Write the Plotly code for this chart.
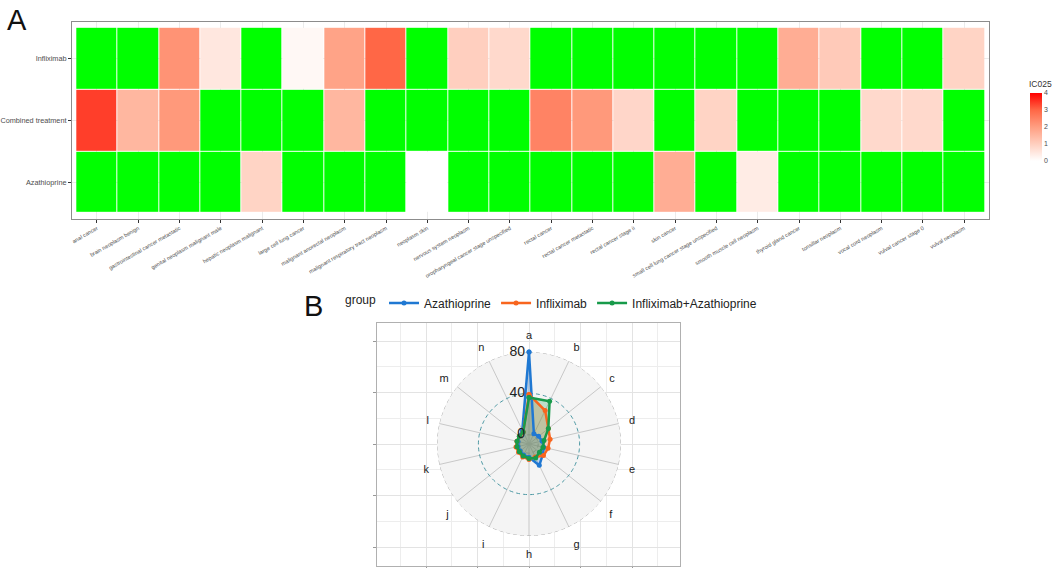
import numpy as np
import plotly.graph_objects as go

# ---- panel A: IC025 heatmap (None = no value, drawn green) ----
cancers = ["anal cancer", "brain neoplasm benign", "gastrointestinal cancer metastatic",
           "genital neoplasm malignant male", "hepatic neoplasm malignant", "large cell lung cancer",
           "malignant anorectal neoplasm", "malignant respiratory tract neoplasm", "neoplasm skin",
           "nervous system neoplasm", "oropharyngeal cancer stage unspecified", "rectal cancer",
           "rectal cancer metastatic", "rectal cancer stage ii", "skin cancer",
           "small cell lung cancer stage unspecified", "smooth muscle cell neoplasm",
           "thyroid gland cancer", "tonsillar neoplasm", "vocal cord neoplasm",
           "vulval cancer stage 0", "vulval neoplasm"]
treatments = ["Azathioprine", "Combined treatment", "Infliximab"]

ic025_azathioprine = [None, None, None, None, 0.9, None, None, None, 0.0, None, None,
                      None, None, None, 1.7, None, 0.4, None, None, None, None, None]
ic025_combined = [3.4, 1.5, 2.1, None, None, None, 1.5, None, None, None, None,
                  2.5, 2.1, 0.85, None, 0.9, None, None, None, 0.8, 0.8, None]
ic025_infliximab = [None, None, 2.2, 0.5, None, 0.15, 1.9, 3.0, None, 1.0, 0.8,
                    None, None, None, None, None, None, 1.7, 1.1, None, None, 0.9]

# ---- panel B: radar ----
spokes = list("abcdefghijklmn")
azathioprine = [80, 2, 3, 4, 6, 8, 14, 4, 3, 2, 2, 2, 3, 6]
infliximab = [39, 27, 15, 12, 10, 9, 5, 6, 5, 4, 4, 3, 3, 4]
infliximab_azathioprine = [36, 37, 15, 6, 5, 4, 6, 5, 4, 3, 3, 3, 3, 4]
radial_ticks = [0, 40, 80]

W, H = 1052, 568
px = lambda x: x / W
py = lambda y: 1 - y / H

# white -> red, interpolated like ggplot (Lab)
heat_scale = [[0, "#FFFFFF"], [0.25, "#FFCFBF"], [0.5, "#FF9E81"], [0.75, "#FF6746"], [1, "#FF0000"]]

fig = go.Figure()

z = [ic025_azathioprine, ic025_combined, ic025_infliximab]
na_cells = [[1 if v is None else None for v in row] for row in z]

fig.add_trace(go.Heatmap(z=na_cells, x=cancers, y=treatments, xgap=1, ygap=1,
                         colorscale=[[0, "#00FF00"], [1, "#00FF00"]], showscale=False,
                         hoverinfo="skip"))
fig.add_trace(go.Heatmap(z=z, x=cancers, y=treatments, xgap=1, ygap=1,
                         colorscale=heat_scale, zmin=0, zmax=4,
                         colorbar=dict(x=px(1030), xanchor="left", y=py(127), yanchor="middle",
                                       thickness=12, len=68, lenmode="pixels",
                                       tickvals=[0, 1, 2, 3, 4], ticks="",
                                       tickfont=dict(size=7, color="#4D4D4D"),
                                       outlinewidth=0, xpad=0, ypad=0)))

# empty trace so the radar's cartesian panel is drawn
fig.add_trace(go.Scatter(x=[None], y=[None], xaxis="x2", yaxis="y2", showlegend=False))

n = len(spokes)
angles = [i * 360 / n for i in range(n)]
theta_ring = np.linspace(0, 360, 181)
for r_val, col in zip(radial_ticks, ["#AAAAAA", "#4D98A3", "#AAAAAA"]):
    fig.add_trace(go.Scatterpolar(r=[r_val] * len(theta_ring), theta=theta_ring, mode="lines",
                                  line=dict(color=col, width=1, dash="4px,3px"),
                                  showlegend=False, hoverinfo="skip"))

groups = [("Azathioprine", azathioprine, "#1F78D2", "rgba(31,120,210,0.25)"),
          ("Infliximab", infliximab, "#F8651E", "rgba(248,101,30,0.25)"),
          ("Infliximab+Azathioprine", infliximab_azathioprine, "#179A4A", "rgba(23,154,74,0.25)")]
for name, vals, col, fillcol in groups:
    r = vals + vals[:1]
    th = angles + angles[:1]
    fig.add_trace(go.Scatterpolar(r=r, theta=th, mode="lines", fill="toself", fillcolor=fillcol,
                                  line=dict(width=0), showlegend=False, hoverinfo="skip"))
for name, vals, col, fillcol in groups:
    r = vals + vals[:1]
    th = angles + angles[:1]
    fig.add_trace(go.Scatterpolar(r=r, theta=th, mode="lines+markers", name=name,
                                  line=dict(color=col, width=2.5), marker=dict(color=col, size=5)))

# radial value labels beside spoke "a"
fig.add_trace(go.Scatterpolar(r=radial_ticks, theta=[0] * len(radial_ticks), mode="text",
                              text=[str(v) + "\u00a0" for v in radial_ticks],
                              textposition="middle left",
                              textfont=dict(size=14, color="#222"), showlegend=False,
                              hoverinfo="skip", cliponaxis=False))

axis_common = dict(automargin=False, zeroline=False, showline=True, mirror=True, linewidth=1)

fig.update_layout(
    width=W, height=H, margin=dict(l=0, r=0, t=0, b=0),
    paper_bgcolor="white", plot_bgcolor="white",
    font=dict(family="Liberation Sans, Arial, sans-serif", color="#222"),
    xaxis=dict(domain=[px(72), px(989)], range=[-0.604, 21.6], showgrid=True, gridcolor="#EBEBEB",
               linecolor="#8C8C8C", ticks="outside", ticklen=3, tickcolor="#333", tickangle=-30,
               tickfont=dict(size=5.5, color="#4D4D4D"), **axis_common),
    yaxis=dict(domain=[py(219), py(22)], range=[-0.594, 2.594], showgrid=True, gridcolor="#EBEBEB",
               linecolor="#8C8C8C", ticks="outside", ticklen=3, tickcolor="#333",
               tickfont=dict(size=7.3, color="#4D4D4D"), **axis_common),
    xaxis2=dict(domain=[px(377), px(680)], range=[-147.6, 146.6], anchor="y2",
                tick0=0, dtick=50, showticklabels=False, ticks="outside", ticklen=3, tickcolor="#999",
                showgrid=True, gridcolor="#E3E3E3",
                minor=dict(dtick=25, showgrid=True, gridcolor="#EDEDED"),
                linecolor="#B0B0B0", **axis_common),
    yaxis2=dict(domain=[py(566), py(323)], range=[-118.4, 117.5], anchor="x2",
                tick0=0, dtick=50, showticklabels=False, ticks="outside", ticklen=3, tickcolor="#999",
                showgrid=True, gridcolor="#E3E3E3",
                minor=dict(dtick=25, showgrid=True, gridcolor="#EDEDED"),
                linecolor="#B0B0B0", **axis_common),
    polar=dict(domain=dict(x=[px(437), px(621)], y=[py(536), py(352)]),
               bgcolor="#F4F4F4",
               radialaxis=dict(range=[-8.9, 80], angle=90, showticklabels=False,
                               showgrid=False, showline=False, ticks=""),
               angularaxis=dict(rotation=90, direction="clockwise", tickvals=angles, ticktext=spokes,
                                showline=False, gridcolor="#C8C8C8", ticks="outside", ticklen=8,
                                tickcolor="rgba(0,0,0,0)", tickfont=dict(size=11, color="#222"))),
    legend=dict(orientation="h", x=px(343), xanchor="left", y=py(303), yanchor="middle",
                title=dict(text="group", side="left", font=dict(size=12)),
                font=dict(size=12), bgcolor="rgba(0,0,0,0)", itemwidth=30),
    annotations=[dict(text="A", x=px(5), y=py(2), xanchor="left", yanchor="top",
                      xref="paper", yref="paper", showarrow=False,
                      font=dict(size=29, color="#111")),
                 dict(text="B", x=px(302), y=py(288), xanchor="left", yanchor="top",
                      xref="paper", yref="paper", showarrow=False,
                      font=dict(size=29, color="#111")),
                 dict(text="IC025", x=px(1040), y=py(91), xanchor="center", yanchor="bottom",
                      xref="paper", yref="paper", showarrow=False,
                      font=dict(size=8.5, color="#333"))],
)

fig.write_html("out.html", config={"displayModeBar": False},
               post_script="document.body.style.margin='0px';")
